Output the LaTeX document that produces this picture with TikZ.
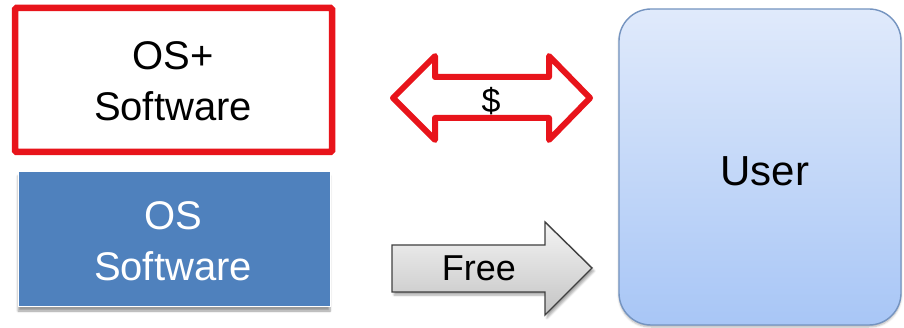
\documentclass[tikz,border=0pt]{standalone}
\usepackage{fontspec}
\setmainfont{Liberation Sans}
\usetikzlibrary{shadows,shadows.blur}
\definecolor{boxred}{HTML}{E8141B}
\definecolor{boxblue}{HTML}{4F81BD}
\definecolor{usertop}{HTML}{E0EAFB}
\definecolor{userbot}{HTML}{A8C6F6}
\definecolor{userline}{HTML}{7594C0}
\definecolor{greytop}{HTML}{F4F4F4}
\definecolor{greybot}{HTML}{C4C4C4}
\tikzset{
  boxtext/.style={align=center,font=\fontsize{40}{51}\selectfont,inner sep=0pt},
  redarrow/.style={draw=boxred,line width=6pt,line join=round,fill=white},
  freearrow/.style={draw=black!75,line width=1.4pt,line join=miter,top color=greytop,bottom color=greybot,
    blur shadow={shadow xshift=2pt,shadow yshift=-3pt,shadow blur steps=6,shadow opacity=35}},
}
\begin{document}
\begin{tikzpicture}[x=1pt,y=-1pt]
\useasboundingbox (0,0) rectangle (904,328);
% red box
\draw[boxred,line width=6.5pt,fill=white,rounded corners=1.5pt] (15,8) rectangle (332,152);
\node[boxtext] (osplus) at (173,81) {OS+\\Software};
% blue box
\fill[boxblue,draw=white,line width=1pt,blur shadow={shadow xshift=0pt,shadow yshift=-4pt,shadow blur steps=6,shadow opacity=40}] (18,172) rectangle (330,307);
\node[boxtext,text=white] (os) at (173,241) {OS\\Software};
% user box
\draw[userline,line width=1.4pt,rounded corners=32pt,top color=usertop,bottom color=userbot,
  blur shadow={shadow xshift=0pt,shadow yshift=-2pt,shadow blur steps=5,shadow opacity=30}] (619,9) rectangle (901,325);
\node[font=\fontsize{42}{50}\selectfont,inner sep=0pt] (user) at (765,171) {User};
% red double arrow
\draw[redarrow] (393,98) -- (435,56) -- (435,77) -- (549,77) -- (549,56) -- (590,98)
  -- (549,140) -- (549,118) -- (435,118) -- (435,140) -- cycle;
\node[font=\fontsize{34}{38}\selectfont,inner sep=0pt] (dollar) at (491,101) {\$};
% free arrow
\draw[freearrow] (392,245) -- (545,245) -- (545,222) -- (592,268) -- (545,315) -- (545,292) -- (392,292) -- cycle;
\node[font=\fontsize{36}{40}\selectfont,inner sep=0pt] (free) at (479,268) {Free};
\end{tikzpicture}
\end{document}
